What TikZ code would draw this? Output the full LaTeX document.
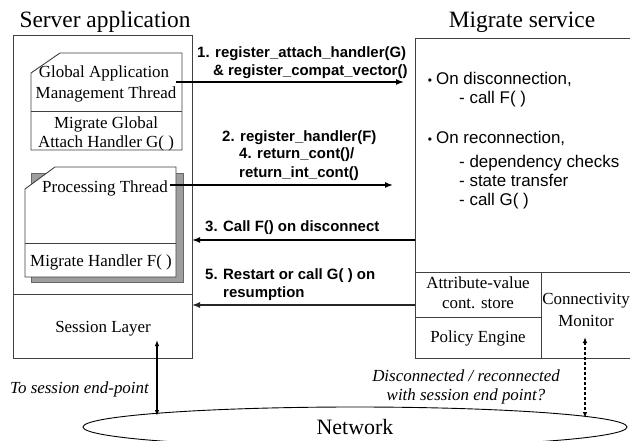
\documentclass[tikz,border=0pt]{standalone}
\usepackage{fontspec}
\setmainfont{Liberation Serif}
\setsansfont{Liberation Sans}
\usetikzlibrary{arrows.meta,shapes.geometric}
\begin{document}
\begin{tikzpicture}[x=1bp,y=-1bp,
  ser/.style={font=\fontsize{17}{20}\selectfont, inner sep=0, anchor=base},
  lab/.style={font=\sffamily\bfseries\fontsize{15}{18}\selectfont, inner sep=0, anchor=base west},
  san/.style={font=\sffamily\fontsize{17}{20}\selectfont, inner sep=0, anchor=base west},
  bul/.style={font=\sffamily\fontsize{12}{14}\selectfont, inner sep=0, anchor=base},
  ttl/.style={font=\fontsize{23.5}{28}\selectfont, inner sep=0, anchor=base},
  ital/.style={font=\itshape\fontsize{17}{20}\selectfont, inner sep=0, anchor=base},
  box/.style={draw=black!75, line width=0.9bp, inner sep=0, outer sep=0, anchor=north west},
  arr/.style={line width=1.5bp, -{Latex[length=8bp,width=6bp]}},
  varr/.style={line width=1.1bp, {Latex[length=6bp,width=4.5bp]}-{Latex[length=6bp,width=4.5bp]}}
]
\useasboundingbox (0,0) rectangle (630,441);
% titles
\node[ttl] (t1) at (105,28) {Server application};
\node[ttl] (t2) at (522,28) {Migrate service};
% server application
\node[box, minimum width=179bp, minimum height=259bp] (sa) at (13,35) {};
\node[box, minimum width=179bp, minimum height=64bp] (sl) at (13,294) {};
\node[ser] (slt) at (103,332) {Session Layer};
% global application thread
\draw[black!75, line width=0.9bp, fill=white] (31,73) -- (60,53) -- (182,53) -- (182,150) -- (31,150) -- cycle;
\draw[black!75, line width=0.9bp] (31,111) -- (182,111);
\node[ser] (g1) at (104,78) {Global Application};
\node[ser] (g2) at (106,99) {Management Thread};
\node[ser] (g3) at (106,129) {Migrate Global};
\node[ser] (g4) at (106,148) {Attach Handler G( )};
% processing thread with shadow
\draw[black!60, line width=0.9bp, fill=black!38] (31,173) -- (183,173) -- (183,282) -- (31,282) -- cycle;
\draw[black!75, line width=0.9bp, fill=white] (25,189) -- (55,167) -- (176,167) -- (176,277) -- (25,277) -- cycle;
\draw[black!75, line width=0.9bp] (25,243) -- (176,243);
\node[ser] (p1) at (105,193) {Processing Thread};
\node[ser] (p2) at (101,267) {Migrate Handler F( )};
% migrate service
\node[box, minimum width=216bp, minimum height=320bp] (ms) at (415,38) {};
\node[box, minimum width=126bp, minimum height=45bp] (av) at (415,272) {};
\node[box, minimum width=126bp, minimum height=41bp] (pe) at (415,317) {};
\node[box, minimum width=90bp, minimum height=86bp] (cm) at (541,272) {};
\node[ser] (av1) at (478,289) {Attribute-value};
\node[ser] (av2) at (478,309) {cont. store};
\node[ser] (pe1) at (478,342) {Policy Engine};
\node[ser] (cm1) at (586,305) {Connectivity};
\node[ser] (cm2) at (586,326) {Monitor};
% bullets
\node[bul] (b1) at (430,84.5) {•};
\node[san] (m1) at (436,85) {On disconnection,};
\node[san] (m2) at (459,104) {- call F( )};
\node[bul] (b2) at (430,143.5) {•};
\node[san] (m3) at (436,144) {On reconnection,};
\node[san] (m4) at (459,168) {- dependency checks};
\node[san] (m5) at (459,187) {- state transfer};
\node[san] (m6) at (459,206) {- call G( )};
% arrow labels
\node[lab] (l1a) at (197,58) {1. register\_attach\_handler(G)};
\node[lab] (l1b) at (213,76) {\& register\_compat\_vector()};
\node[lab] (l2a) at (222,142) {2. register\_handler(F)};
\node[lab] (l2b) at (239,159) {4. return\_cont()/};
\node[lab] (l2c) at (239,178) {return\_int\_cont()};
\node[lab] (l3) at (205,232) {3. Call F() on disconnect};
\node[lab] (l5a) at (205,280) {5. Restart or call G( ) on};
\node[lab] (l5b) at (223,298) {resumption};
% arrows
\coordinate (a1) at (176,82);
\coordinate (a2) at (170,185);
\coordinate (a3) at (415,240);
\coordinate (a5) at (415,305);
\draw[arr, shorten >=11bp] (a1) -- (a1 -| ms.west);
\draw[arr, shorten >=22bp] (a2) -- (a2 -| ms.west);
\draw[arr] (a3) -- (a3 -| sa.east);
\draw[arr, line width=1.3bp, black!85] (a5) -- (a5 -| sl.east);
% network
\node[ellipse, draw=black, line width=0.9bp, minimum width=544bp, minimum height=40bp, inner sep=0,
      font=\fontsize{22}{26}\selectfont] (net) at (355,427) {\raisebox{-3bp}{Network}};
\coordinate (s1) at (157,340);
\coordinate (s2) at (157,416);
\coordinate (c1) at (585,337);
\coordinate (c2) at (585,418);
\draw[varr] (s1) -- (s2);
\draw[varr, dashed, dash pattern=on 3bp off 2bp] (c1) -- (c2);
\node[ital, anchor=base west] (e1) at (10,393) {To session end-point};
\node[ital] (e2) at (466,381) {Disconnected / reconnected};
\node[ital] (e3) at (466,400) {with session end point?};
\end{tikzpicture}
\end{document}
